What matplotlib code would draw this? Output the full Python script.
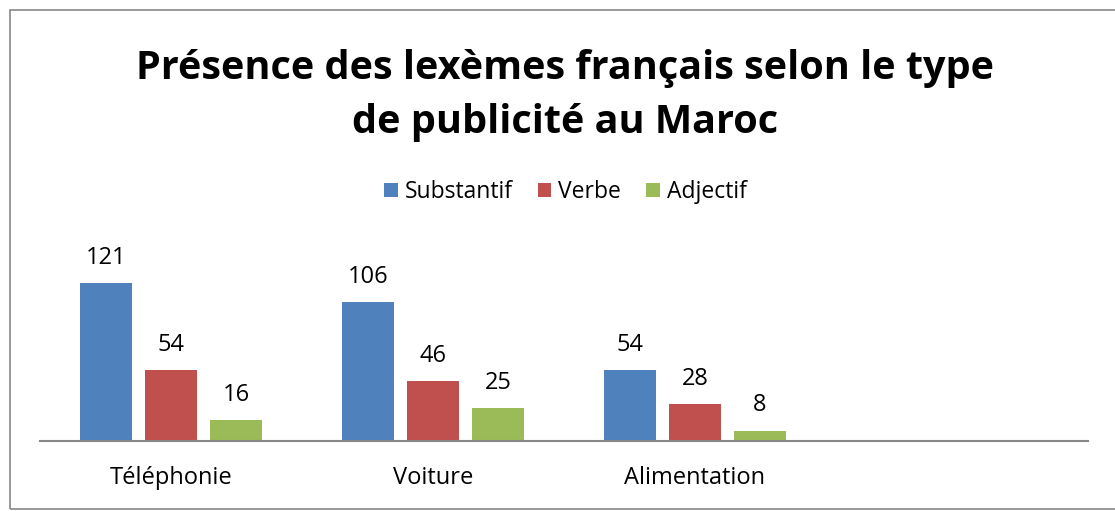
import numpy as np
import matplotlib
matplotlib.use("Agg")
import matplotlib.pyplot as plt
from matplotlib.patches import Rectangle

# données
categories = ["Téléphonie", "Voiture", "Alimentation", ""]
series = ["Substantif", "Verbe", "Adjectif"]
substantif = [121, 106, 54, None]
verbe = [54, 46, 28, None]
adjectif = [16, 25, 8, None]

colors = ["#4F81BD", "#C0504D", "#9BBB59"]

plt.rcParams['font.family'] = ['Open Sans', 'DejaVu Sans']

W, H = 1115, 511
fig = plt.figure(figsize=(W / 100, H / 100), dpi=100)

# cadre du graphique (le bord droit sort de l'image)
fig.patches.append(Rectangle((10 / W, 2 / H), 1.0, 1 - 12 / H,
                             transform=fig.transFigure, fill=False,
                             edgecolor="#878787", lw=1.2))

ax = fig.add_axes([40 / W, 70 / H, (1088 - 40) / W, 183 / H])

x = np.arange(len(categories))
width = 0.195
offsets = [-0.248, 0, 0.248]

for vals, name, col, off in zip([substantif, verbe, adjectif], series, colors, offsets):
    xs = [xi + off for xi, v in zip(x, vals) if v is not None]
    ys = [v for v in vals if v is not None]
    bars = ax.bar(xs, ys, width, color=col, label=name)
    for b, v in zip(bars, ys):
        ax.text(b.get_x() + b.get_width() / 2, v + 10, str(v),
                ha="center", va="bottom", fontsize=17)

ax.set_xlim(-0.5, len(categories) - 0.5)
ax.set_ylim(0, 140)
ax.set_yticks([])
ax.set_xticks(x)
ax.set_xticklabels(categories, fontsize=17)
ax.tick_params(axis="x", length=0, pad=18)
for s in ["top", "right", "left"]:
    ax.spines[s].set_visible(False)
ax.spines["bottom"].set_color("#878787")
ax.spines["bottom"].set_linewidth(1.5)

fig.text(0.507, 1 - 96 / H, "Présence des lexèmes français selon le type\nde publicité au Maroc",
         ha="center", va="center", fontsize=28.5, fontweight="bold", linespacing=1.5)

fig.legend(loc="center", bbox_to_anchor=(0.507, 1 - 192 / H), ncol=3, frameon=False,
           fontsize=16.5, handlelength=0.6, handleheight=0.6, handletextpad=0.3,
           columnspacing=1.1)

fig.savefig("out.png", dpi=100)
